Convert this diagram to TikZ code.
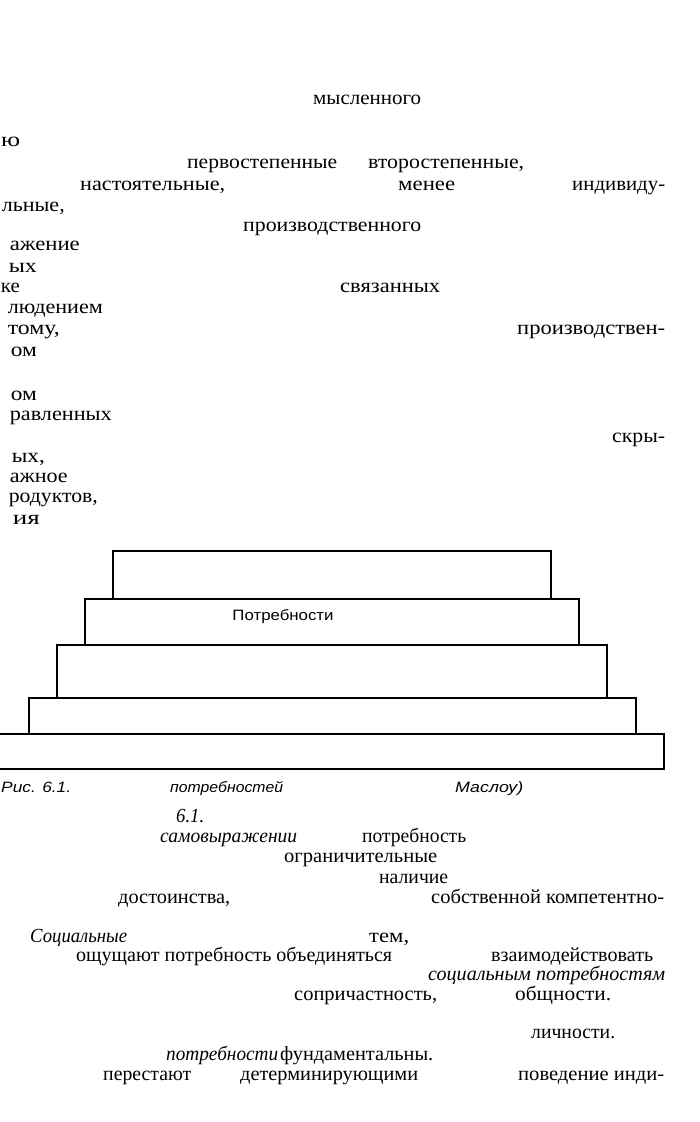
\documentclass[tikz,border=0pt]{standalone}
\usepackage{fontspec}
\usepackage{graphicx}
\setmainfont{Liberation Serif}
\newfontfamily\sansf{Liberation Sans}
\newcommand{\fitw}[2]{\resizebox{#1pt}{\height}{#2}}
\tikzset{
  txt/.style={anchor=base west, inner sep=0pt, font=\fontsize{20}{24}\selectfont},
  txtr/.style={anchor=base east, inner sep=0pt, font=\fontsize{20}{24}\selectfont},
  itx/.style={txt, font=\fontsize{20}{24}\selectfont\itshape},
  capt/.style={anchor=base west, inner sep=0pt, font=\fontsize{15}{18}\sansf\itshape},
  lbl/.style={inner sep=0pt, font=\fontsize{15}{18}\sansf},
  stepbox/.style={draw=black, line width=2.2pt},
}
\begin{document}
\begin{tikzpicture}[x=1pt,y=-1pt]
\useasboundingbox (0,0) rectangle (700,1122);
\fill[white] (0,0) rectangle (700,1122);
% upper text fragments
\node[txt] (t1) at (313,104) {\fitw{108}{мысленного}};
\node[txt] (t2) at (1,146) {\fitw{19}{ю}};
\node[txt] (t3) at (187,168) {\fitw{150}{первостепенные}};
\node[txt] (t4) at (368,168) {\fitw{156}{второстепенные,}};
\node[txt] (t5) at (80,190) {\fitw{145}{настоятельные,}};
\node[txt] (t6) at (398,190) {\fitw{57}{менее}};
\node[txt] (t7) at (572,190) {\fitw{93}{индивиду-}};
\node[txtr] (t8) at (65,211) {\fitw{63}{льные,}};
\node[txt] (t9) at (243,231) {\fitw{178}{производственного}};
\node[txtr] (t10) at (80,250) {\fitw{70}{ажение}};
\node[txtr] (t11) at (37,272) {\fitw{28}{ых}};
\node[txtr] (t12) at (20,292) {\fitw{19}{ке}};
\node[txt] (t13) at (340,292) {\fitw{100}{связанных}};
\node[txtr] (t14) at (103,313) {\fitw{95}{людением}};
\node[txtr] (t15) at (60,334) {\fitw{52}{тому,}};
\node[txt] (t16) at (517,334) {\fitw{148}{производствен-}};
\node[txtr] (t17) at (37,356) {\fitw{26}{ом}};
\node[txtr] (t18) at (37,400) {\fitw{26}{ом}};
\node[txtr] (t19) at (112,420) {\fitw{102}{равленных}};
\node[txt] (t20) at (612,442) {\fitw{53}{скры-}};
\node[txtr] (t21) at (45,462) {\fitw{33}{ых,}};
\node[txtr] (t22) at (68,482) {\fitw{58}{ажное}};
\node[txtr] (t23) at (98,502) {\fitw{89}{родуктов,}};
\node[txtr] (t24) at (40,524) {\fitw{27}{ия}};
% pyramid
\draw[stepbox] (113,551) rectangle (551,599);
\draw[stepbox] (85,599) rectangle (579,645);
\draw[stepbox] (57,645) rectangle (607,698);
\draw[stepbox] (29,698) rectangle (636,734);
\draw[stepbox] (-5,734) rectangle (664,769);
\node[lbl] (lb) at (283,617) {\fitw{101}{Потребности}};
% caption
\node[capt] (c1) at (1,792) {\fitw{70}{Рис. 6.1.}};
\node[capt] (c2) at (170,792) {\fitw{113}{потребностей}};
\node[capt] (c3) at (455,792) {\fitw{68}{Маслоу)}};
% lower text
\node[itx] (b1) at (176,822) {\fitw{28}{6.1.}};
\node[itx] (b2) at (160,842) {\fitw{137}{самовыражении}};
\node[txt] (b3) at (362,842) {\fitw{104}{потребность}};
\node[txt] (b4) at (284,862) {\fitw{153}{ограничительные}};
\node[txt] (b5) at (379,883) {\fitw{69}{наличие}};
\node[txt] (b6) at (118,903) {\fitw{112}{достоинства,}};
\node[txt] (b7) at (431,903) {\fitw{233}{собственной компетентно-}};
\node[itx] (b8) at (30,942) {\fitw{97}{Социальные}};
\node[txt] (b9) at (369,942) {\fitw{40}{тем,}};
\node[txt] (b10) at (76,961) {\fitw{316}{ощущают потребность объединяться}};
\node[txt] (b11) at (491,961) {\fitw{162}{взаимодействовать}};
\node[itx] (b12) at (428,980) {\fitw{237}{социальным потребностям}};
\node[txt] (b13) at (294,1000) {\fitw{143}{сопричастность,}};
\node[txt] (b14) at (515,1000) {\fitw{96}{общности.}};
\node[txt] (b15) at (531,1038) {\fitw{84}{личности.}};
\node[itx] (b16) at (166,1060) {\fitw{112}{потребности}};
\node[txt] (b17) at (280,1060) {\fitw{153}{фундаментальны.}};
\node[txt] (b18) at (103,1080) {\fitw{88}{перестают}};
\node[txt] (b19) at (240,1080) {\fitw{178}{детерминирующими}};
\node[txt] (b20) at (518,1080) {\fitw{146}{поведение инди-}};
\end{tikzpicture}
\end{document}
